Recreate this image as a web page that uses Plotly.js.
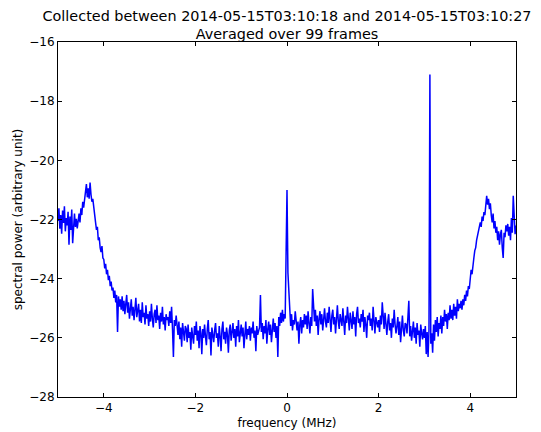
<!DOCTYPE html>
<html>
<head>
<meta charset="utf-8">
<script src="https://cdn.plot.ly/plotly-3.0.1.min.js"></script>
<style>html,body{margin:0;padding:0;background:#fff;}#chart{width:541px;height:432px;}</style>
</head>
<body>
<div id="chart"></div>
<script>
// Frequency bins (MHz): evenly spaced FFT bins
const freqStart = -5;
const freqStep = 0.02;

// Spectral power (arbitrary unit), one row per 0.2 MHz
const power = [
  -22.05, -21.62, -22.31, -21.85, -22.48, -21.70, -22.12, -21.55, -22.40, -21.95,
  -22.20, -21.74, -22.85, -21.90, -22.35, -21.66, -22.80, -22.02, -21.80, -22.25,
  -21.98, -22.30, -22.05, -21.80, -22.10, -21.62, -21.85, -21.40, -21.60, -21.25,
  -21.05, -20.80, -21.25, -20.95, -21.30, -20.75, -21.15, -21.40, -21.30, -21.65,
  -21.80, -22.10, -22.35, -22.25, -22.70, -22.60, -22.95, -23.10, -22.90, -23.30,
  -23.35, -23.65, -23.50, -23.85, -23.70, -24.05, -23.90, -24.25, -24.10, -24.40,
  -24.30, -24.65, -24.40, -24.80, -24.55, -25.80, -24.60, -24.95, -24.70, -25.05,
  -24.60, -25.10, -24.75, -25.20, -24.85, -24.55, -25.15, -24.80, -25.35, -24.90,
  -24.70, -25.25, -24.95, -25.40, -25.00, -24.65, -25.30, -25.10, -24.85, -25.45,
  -25.05, -25.50, -24.80, -25.30, -25.15, -25.55, -24.90, -25.35, -25.20, -25.60,
  -25.10, -25.45, -24.85, -25.35, -25.65, -25.20, -25.05, -25.50, -24.90, -25.40,
  -25.25, -25.70, -25.15, -25.45, -24.95, -25.55, -25.30, -25.75, -25.20, -25.40,
  -25.30, -25.60, -25.10, -25.50, -24.95, -25.70, -26.65, -25.40, -25.60, -25.25,
  -25.55, -25.90, -25.45, -26.05, -25.65, -26.30, -25.50, -25.85, -26.10, -25.60,
  -25.70, -26.15, -25.55, -26.00, -25.80, -26.40, -25.65, -25.95, -26.20, -25.60,
  -25.90, -25.45, -26.10, -25.75, -26.35, -25.60, -25.85, -26.55, -25.70, -26.00,
  -25.55, -25.95, -26.25, -25.70, -25.40, -26.05, -25.80, -26.60, -25.65, -25.90,
  -26.15, -25.75, -25.50, -26.00, -25.85, -26.30, -25.60, -25.95, -26.45, -25.70,
  -25.45, -26.05, -25.80, -26.20, -25.65, -25.90, -26.50, -25.75, -25.55, -26.10,
  -25.85, -25.50, -26.00, -25.70, -26.30, -25.60, -25.95, -25.40, -26.15, -25.75,
  -25.55, -25.95, -25.65, -26.35, -25.80, -25.45, -26.05, -25.70, -25.90, -25.60,
  -26.10, -25.65, -25.85, -25.45, -26.00, -25.75, -26.45, -25.60, -25.90, -25.70,
  -25.65, -24.55, -25.80, -25.50, -26.05, -25.60, -25.85, -25.40, -26.20, -25.70,
  -25.45, -25.90, -25.55, -26.15, -25.65, -25.35, -25.80, -25.50, -26.00, -25.60,
  -26.65, -25.30, -25.60, -25.15, -25.50, -25.05, -25.45, -25.20, -25.35, -23.35,
  -21.00, -23.80, -24.50, -24.90, -25.60, -25.20, -25.75, -25.40, -25.55, -25.10,
  -25.35, -25.75, -25.45, -26.20, -25.55, -25.30, -25.85, -25.40, -25.65, -25.20,
  -25.55, -25.25, -25.70, -25.10, -25.50, -25.85, -25.30, -25.60, -24.35, -25.15,
  -25.45, -25.05, -25.60, -25.25, -25.90, -25.35, -25.10, -25.55, -25.20, -25.75,
  -25.30, -25.00, -25.45, -25.65, -25.15, -25.50, -24.95, -25.40, -25.80, -25.25,
  -25.05, -25.55, -25.30, -25.85, -25.15, -24.90, -25.45, -25.70, -25.20, -25.40,
  -25.60, -25.00, -25.35, -25.90, -25.25, -25.50, -24.95, -25.45, -25.75, -25.15,
  -25.40, -25.70, -25.10, -25.55, -25.30, -25.95, -25.20, -24.95, -25.50, -25.35,
  -25.65, -25.20, -25.45, -25.05, -25.80, -25.30, -25.55, -26.00, -25.25, -25.40,
  -25.15, -25.60, -25.35, -25.75, -24.95, -25.50, -25.85, -25.30, -25.45, -25.65,
  -25.40, -25.80, -25.25, -25.55, -24.80, -25.35, -25.70, -25.15, -25.60, -25.90,
  -25.45, -25.20, -25.75, -25.50, -26.00, -25.35, -25.65, -25.05, -25.55, -25.85,
  -25.60, -25.30, -25.90, -25.45, -26.15, -25.55, -25.25, -25.75, -25.95, -25.50,
  -25.55, -25.85, -25.40, -24.75, -25.95, -25.60, -26.10, -25.70, -25.45, -26.00,
  -25.65, -26.20, -25.50, -25.90, -25.75, -26.30, -25.55, -25.85, -26.05, -25.70,
  -26.00, -25.60, -26.55, -25.80, -26.65, -25.75, -17.10, -26.20, -25.85, -26.50,
  -25.55, -26.10, -25.40, -25.80, -25.30, -25.95, -25.50, -25.70, -25.25, -25.85,
  -25.30, -25.60, -25.05, -25.45, -25.20, -25.70, -25.15, -25.40, -24.90, -25.35,
  -25.05, -25.40, -24.85, -25.25, -24.95, -25.35, -24.70, -25.10, -24.85, -25.00,
  -24.75, -25.05, -24.70, -24.90, -24.55, -24.75, -24.40, -24.60, -24.25, -24.35,
  -24.05, -23.70, -23.85, -23.45, -23.30, -23.05, -22.95, -22.70, -22.55, -22.35,
  -22.30, -22.10, -22.25, -21.90, -22.05, -21.75, -21.85, -21.45, -21.20, -21.50,
  -21.30, -21.65, -21.45, -21.85, -22.10, -21.80, -22.30, -22.05, -22.45, -22.25,
  -22.70, -22.40, -22.85, -22.50, -22.35, -22.95, -23.30, -22.45, -22.60, -22.20,
  -22.40, -22.15, -22.55, -22.25, -22.70, -21.95, -22.45, -21.20, -22.05, -22.50,
  -22.20
];

const xTicks = [-4, -2, 0, 2, 4];
const yTicks = [-28, -26, -24, -22, -20, -18, -16];

const titleLines = [
  'Collected between 2014-05-15T03:10:18 and 2014-05-15T03:10:27',
  'Averaged over 99 frames'
];
const xLabel = 'frequency (MHz)';
const yLabel = 'spectral power (arbitrary unit)';

const freq = power.map((_, i) => freqStart + i * freqStep);

const trace = {
  x: freq,
  y: power,
  type: 'scatter',
  mode: 'lines',
  line: {color: '#0000ff', width: 1.5},
  hoverinfo: 'skip'
};

const axisCommon = {
  ticks: 'inside',
  ticklen: 4,
  tickwidth: 1,
  tickcolor: 'black',
  showline: true,
  linecolor: 'black',
  linewidth: 1,
  mirror: 'ticks',
  showgrid: false,
  zeroline: false,
  tickfont: {family: 'DejaVu Sans', size: 12, color: 'black'}
};

const layout = {
  width: 541,
  height: 432,
  margin: {l: 58, r: 25, t: 42, b: 35, pad: 0},
  paper_bgcolor: 'white',
  plot_bgcolor: 'white',
  font: {family: 'DejaVu Sans', size: 12, color: 'black'},
  showlegend: false,
  title: {
    text: titleLines.join('<br>'),
    font: {family: 'DejaVu Sans', size: 14.4, color: 'black'},
    x: 0.5, xref: 'paper', xanchor: 'center',
    y: 0.952, yref: 'container', yanchor: 'top'
  },
  xaxis: Object.assign({}, axisCommon, {
    range: [-5, 5],
    tickvals: xTicks,
    title: {text: xLabel, font: {family: 'DejaVu Sans', size: 12, color: 'black'}, standoff: 4}
  }),
  yaxis: Object.assign({}, axisCommon, {
    range: [-28, -16],
    tickvals: yTicks,
    title: {text: yLabel, font: {family: 'DejaVu Sans', size: 12, color: 'black'}, standoff: 4}
  })
};

Plotly.newPlot('chart', [trace], layout, {displayModeBar: false, staticPlot: true});
</script>
</body>
</html>
